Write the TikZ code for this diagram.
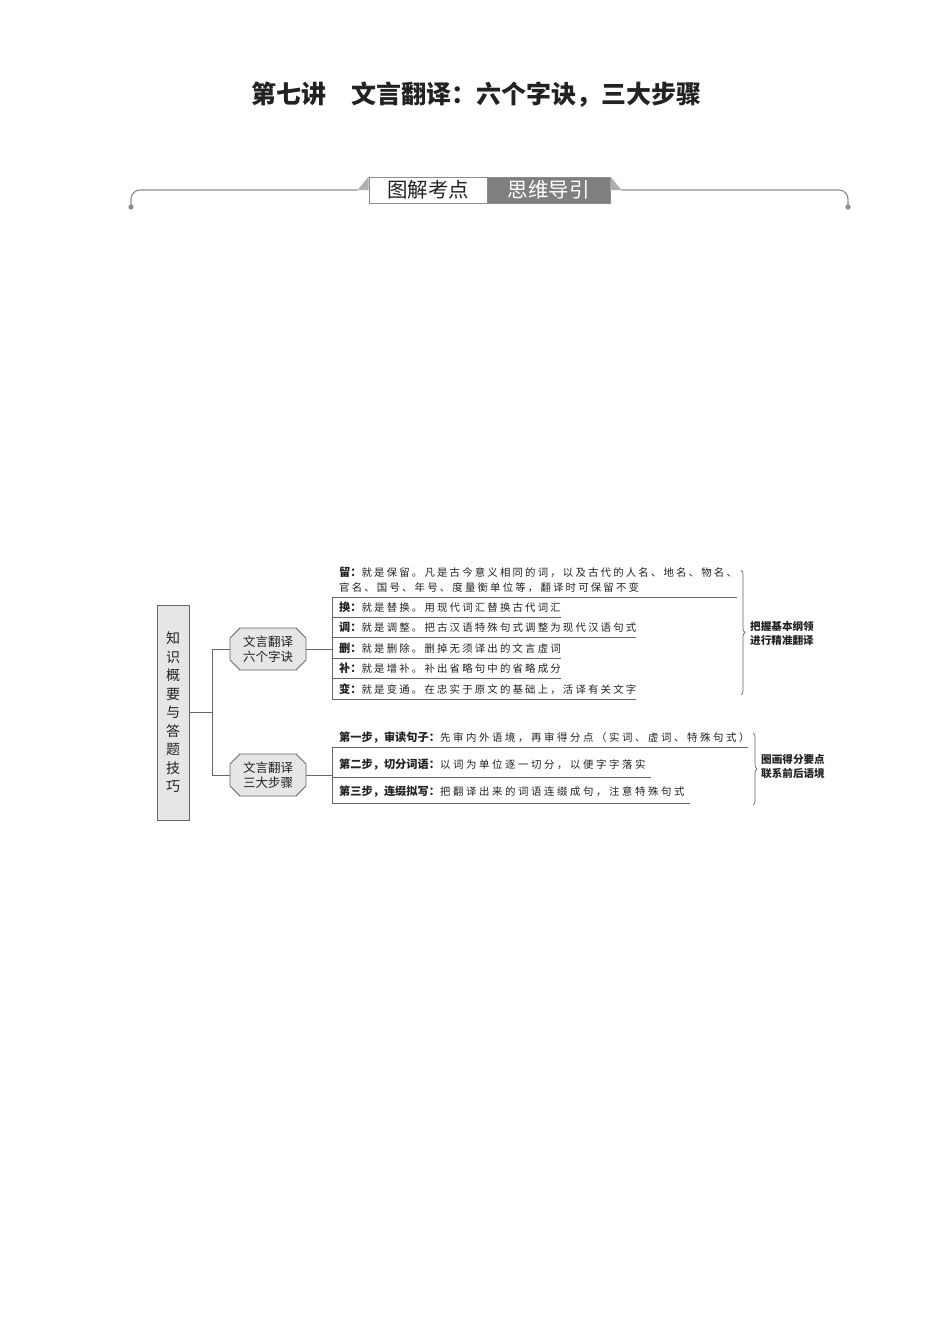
\documentclass[tikz,border=0pt]{standalone}
\usepackage{fontspec}
\usetikzlibrary{decorations.pathreplacing,shapes.misc}
\newfontfamily\cjk{Noto Sans CJK SC}
\newfontfamily\cjkls{Noto Sans CJK SC}[LetterSpace=21]
\newfontfamily\cjklsb{Noto Sans CJK SC}[LetterSpace=25]
\definecolor{lineg}{HTML}{666666}
\definecolor{hdrg}{HTML}{8C8C8C}
\definecolor{boxfill}{HTML}{E6E6E6}
\definecolor{darkbox}{HTML}{7F7F7F}
\definecolor{txt}{HTML}{222222}
\newcommand{\lbl}[1]{{\cjk\bfseries\fontsize{11.2}{13}\selectfont #1}}
\tikzset{
  conn/.style={draw=lineg, line width=0.8pt},
  rowtext/.style={anchor=west, inner sep=0pt, text=txt, font=\cjkls\fontsize{10.4}{13}\selectfont},
  rowtextb/.style={anchor=west, inner sep=0pt, text=txt, font=\cjklsb\fontsize{10.4}{13}\selectfont},
  mapnode/.style={chamfered rectangle, chamfered rectangle xsep=5pt, chamfered rectangle ysep=5pt,
    draw=lineg, fill=boxfill, line width=0.8pt, minimum width=76pt, minimum height=42pt, inner sep=0pt,
    align=center, text=txt, font=\cjk\fontsize{12.5}{15}\selectfont},
  bigbox/.style={draw=lineg, fill=boxfill, line width=0.8pt, minimum width=32pt, minimum height=215pt,
    inner sep=0pt, align=center, text=txt, font=\cjk\fontsize{14}{18.5}\selectfont},
  bracelbl/.style={anchor=west, inner sep=0pt, align=left, text=txt, font=\cjk\bfseries\fontsize{10.6}{14}\selectfont},
  bracestyle/.style={draw=lineg, line width=0.7pt, decorate, decoration={brace, amplitude=4pt}},
  hdr/.style={draw=hdrg, line width=1.1pt},
}
\begin{document}
\begin{tikzpicture}[x=1pt,y=-1pt]
\fill[white] (0,0) rectangle (950,1344);
\useasboundingbox (0,0) rectangle (950,1344);

% title
\node[font=\cjk\bfseries\fontsize{25}{25}\selectfont, text=txt, inner sep=0pt] (title) at (476,95)
  {第七讲\hspace{1em}文言翻译：六个字诀，三大步骤};

% header banner
\node[draw=hdrg, fill=white, line width=0.8pt, minimum width=118pt, minimum height=26pt, inner sep=0pt,
  font=\cjk\fontsize{20.5}{22}\selectfont, text=txt] (h1) at (428,190) {图解考点};
\node[draw=hdrg, fill=darkbox, line width=0.8pt, minimum width=123pt, minimum height=26pt, inner sep=0pt,
  font=\cjk\fontsize{20.5}{22}\selectfont, text=white] (h2) at (548.5,190) {思维导引};
\fill[hdrg!70] (h1.north west) -- (h1.west) -- ++(-11,0) -- cycle;
\fill[hdrg!70] (h2.north east) -- (h2.east) -- ++(11,0) -- cycle;
\coordinate (hl) at (131,205);
\coordinate (hr) at (848,205);
\draw[hdr, rounded corners=9pt] (hl) -- (131,190) -- ([xshift=-11pt]h1.west);
\draw[hdr, rounded corners=9pt] ([xshift=11pt]h2.east) -- (848,190) -- (hr);
\fill[hdrg] (131,207) circle (2.6pt);
\fill[hdrg] (848,207) circle (2.6pt);

% mind map
\node[bigbox] (k) at (173,712.5) {知\\识\\概\\要\\与\\答\\题\\技\\巧};
\node[mapnode] (n1) at (268,649) {文言翻译\\六个字诀};
\node[mapnode] (n2) at (268,775) {文言翻译\\三大步骤};
\coordinate (t) at (212,712);
\draw[conn] (k.east) -- (k.east -| t);
\draw[conn] (n1.west) -- (n1.west -| t) -- (n2.west -| t) -- (n2.west);

% list 1
\node[rowtext] (r1a) at (339,572) {\lbl{留：}就是保留。凡是古今意义相同的词，以及古代的人名、地名、物名、};
\node[rowtext] (r1b) at (339,587.5) {官名、国号、年号、度量衡单位等，翻译时可保留不变};
\node[rowtext] (r2) at (339,607) {\lbl{换：}就是替换。用现代词汇替换古代词汇};
\node[rowtext] (r3) at (339,627.5) {\lbl{调：}就是调整。把古汉语特殊句式调整为现代汉语句式};
\node[rowtext] (r4) at (339,648) {\lbl{删：}就是删除。删掉无须译出的文言虚词};
\node[rowtext] (r5) at (339,668.5) {\lbl{补：}就是增补。补出省略句中的省略成分};
\node[rowtext] (r6) at (339,689.5) {\lbl{变：}就是变通。在忠实于原文的基础上，活译有关文字};
\coordinate (j1) at (332,649);
\draw[conn] (n1.east) -- (j1);
\draw[conn] (332,597) -- (332,699);
\draw[conn] (332,597) -- (737,597);
\draw[conn] (332,617.5) -- (r2.east |- 0,617.5);
\draw[conn] (332,637.5) -- (r3.east |- 0,637.5);
\draw[conn] (332,658) -- (r4.east |- 0,658);
\draw[conn] (332,678.5) -- (r5.east |- 0,678.5);
\draw[conn] (332,699) -- (r6.east |- 0,699);
\draw[bracestyle] (741,570) -- (741,695);
\node[bracelbl] (b1) at (750,633) {把握基本纲领\\进行精准翻译};

% list 2
\node[rowtextb] (s1) at (339,737) {\lbl{第一步，审读句子：}先审内外语境，再审得分点（实词、虚词、特殊句式）};
\node[rowtextb] (s2) at (339,765) {\lbl{第二步，切分词语：}以词为单位逐一切分，以便字字落实};
\node[rowtextb] (s3) at (339,792) {\lbl{第三步，连缀拟写：}把翻译出来的词语连缀成句，注意特殊句式};
\coordinate (j2) at (332,775);
\draw[conn] (n2.east) -- (j2);
\draw[conn] (332,747) -- (332,803);
\draw[conn] (332,747) -- (748,747);
\draw[conn] (332,777.5) -- ([xshift=5pt]s2.east |- 0,777.5);
\draw[conn] (332,803) -- ([xshift=5pt]s3.east |- 0,803);
\draw[bracestyle] (753,733) -- (753,805);
\node[bracelbl] (b2) at (761,767) {圈画得分要点\\联系前后语境};
\end{tikzpicture}
\end{document}
